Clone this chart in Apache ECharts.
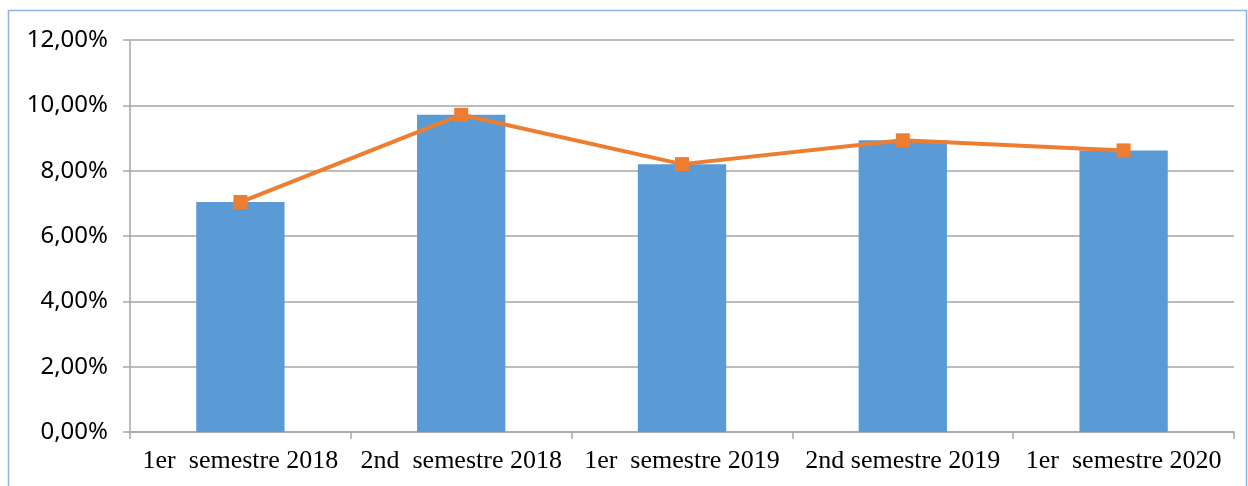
<!DOCTYPE html>
<html>
<head>
<meta charset="utf-8">
<title>semestres</title>
<script src="https://cdn.jsdelivr.net/npm/echarts@6/dist/echarts.min.js"></script>
<style>
  html, body { margin: 0; padding: 0; background: #fff; }
  #chart { width: 1248px; height: 486px; }
</style>
</head>
<body>
<div id="chart"></div>
<script>
// categories (double spaces kept as in the original labels)
var categories = ['1er  semestre 2018', '2nd  semestre 2018', '1er  semestre 2019', '2nd semestre 2019', '1er  semestre 2020'];
// bar values (%)
var barValues = [7.04, 9.71, 8.20, 8.93, 8.62];
// line values (%)
var lineValues = [7.04, 9.71, 8.20, 8.93, 8.62];
// y ticks
var yMin = 0, yMax = 12, yStep = 2;

var chart = echarts.init(document.getElementById('chart'));

var option = {
    animation: false,
    backgroundColor: '#fff',
    grid: { left: 130, right: 14, top: 40, bottom: 54 },
    graphic: [{
        type: 'rect',
        shape: { x: 8.5, y: 10.5, width: 1238, height: 520 },
        style: { fill: 'none', stroke: '#8db4e2', lineWidth: 1.5 },
        silent: true
    }],
    xAxis: {
        type: 'category',
        data: categories,
        axisLine: { lineStyle: { color: '#a6a6a6', width: 1.5 } },
        axisTick: { show: true, length: 7, lineStyle: { color: '#a6a6a6', width: 1.5 } },
        axisLabel: {
            interval: 0,
            color: '#000',
            fontFamily: 'Liberation Serif',
            fontSize: 26,
            margin: 16
        }
    },
    yAxis: {
        type: 'value',
        min: yMin,
        max: yMax,
        interval: yStep,
        axisLine: { show: true, lineStyle: { color: '#a6a6a6', width: 1.5 } },
        axisTick: { show: true, length: 7, lineStyle: { color: '#a6a6a6', width: 1.5 } },
        splitLine: { lineStyle: { color: '#a6a6a6', width: 1.5 } },
        axisLabel: {
            color: '#000',
            fontFamily: 'Noto Sans',
            fontSize: 24,
            margin: 22,
            formatter: function (v) { return v.toFixed(2).replace('.', ',') + '%'; }
        }
    },
    series: [
        {
            type: 'bar',
            data: barValues,
            barWidth: '40%',
            itemStyle: { color: '#5b9bd5' },
            z: 2
        },
        {
            type: 'line',
            data: lineValues,
            symbol: 'rect',
            symbolSize: 14,
            lineStyle: { color: '#ed7d31', width: 4 },
            itemStyle: { color: '#ed7d31' },
            z: 3
        }
    ]
};

chart.setOption(option);
</script>
</body>
</html>
